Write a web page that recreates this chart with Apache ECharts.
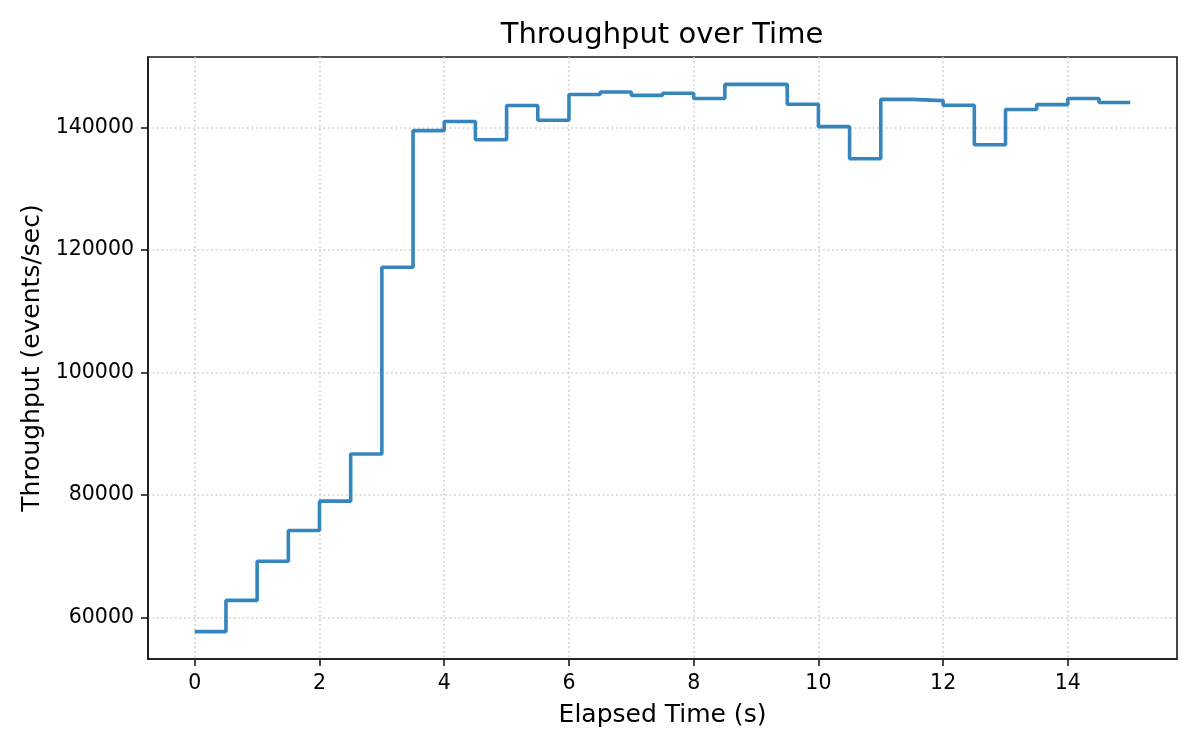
<!DOCTYPE html>
<html>
<head>
<meta charset="utf-8">
<title>Throughput over Time</title>
<script src="https://cdn.jsdelivr.net/npm/echarts@6/dist/echarts.min.js"></script>
<style>
    html, body { margin: 0; padding: 0; background: #fff; }
    #contain { width: 1200px; height: 750px; }
</style>
</head>
<body>
<div id="contain"></div>
<script>
// elapsed time (s) and throughput (events/sec)
const times = [0, 0.5, 1, 1.5, 2, 2.5, 3, 3.5, 4, 4.5, 5, 5.5, 6, 6.5, 7, 7.5,
    8, 8.5, 9, 9.5, 10, 10.5, 11, 11.5, 12, 12.5, 13, 13.5, 14, 14.5, 15];
const throughput = [57700, 62800, 69200, 74200, 79000, 86700, 117200, 139500,
    141000, 138000, 143600, 141200, 145400, 145800, 145250, 145600,
    144750, 147050, 147050, 143800, 140150, 134900, 144600, 144400,
    143650, 137200, 142950, 143750, 144750, 144100, 144100];
const xTicks = [0, 2, 4, 6, 8, 10, 12, 14];
const yTicks = [60000, 80000, 100000, 120000, 140000];

const font = 'DejaVu Sans';
const black = '#1a1a1a';

let points = [];
for (let i = 0; i < times.length; i++) {
    points.push([times[i], throughput[i]]);
}

let chart = echarts.init(document.getElementById('contain'));
let option = {
    animation: false,
    title: {
        text: 'Throughput over Time',
        left: 662,
        top: 21,
        textAlign: 'center',
        padding: 0,
        textStyle: { fontFamily: font, fontSize: 29, fontWeight: 'normal', color: '#000' }
    },
    grid: {
        left: 148,
        right: 23,
        top: 57,
        bottom: 91,
        show: true,
        borderColor: black,
        borderWidth: 1.6,
        containLabel: false
    },
    xAxis: {
        type: 'value',
        min: -0.75,
        max: 15.75,
        name: 'Elapsed Time (s)',
        nameLocation: 'middle',
        nameGap: 44,
        nameTextStyle: { fontFamily: font, fontSize: 25, color: '#000' },
        axisLine: { show: true, onZero: false, lineStyle: { color: black, width: 1.6 } },
        axisTick: { show: true, length: 7, customValues: xTicks, lineStyle: { color: black, width: 1.6 } },
        axisLabel: { customValues: xTicks, margin: 14, fontFamily: font, fontSize: 20.5, color: '#000' },
        splitLine: { show: true, lineStyle: { color: '#cfcfcf', width: 1.6, type: [1.7, 2.8] } }
    },
    yAxis: {
        type: 'value',
        min: 53230,
        max: 151520,
        name: 'Throughput (events/sec)',
        nameLocation: 'middle',
        nameRotate: 90,
        nameGap: 97,
        nameTextStyle: { fontFamily: font, fontSize: 25, color: '#000' },
        axisLine: { show: true, onZero: false, lineStyle: { color: black, width: 1.6 } },
        axisTick: { show: true, length: 7, customValues: yTicks, lineStyle: { color: black, width: 1.6 } },
        axisLabel: {
            customValues: yTicks,
            margin: 14,
            fontFamily: font,
            fontSize: 20.5,
            color: '#000',
            formatter: function (v) { return String(v); }
        },
        splitLine: { show: true, lineStyle: { color: '#cfcfcf', width: 1.6, type: [1.7, 2.8] } }
    },
    series: [
        {
            name: 'Throughput',
            type: 'line',
            step: 'end',
            data: points,
            symbol: 'none',
            lineStyle: { color: '#3686bd', width: 3.6 }
        }
    ]
};
chart.setOption(option);
</script>
</body>
</html>
